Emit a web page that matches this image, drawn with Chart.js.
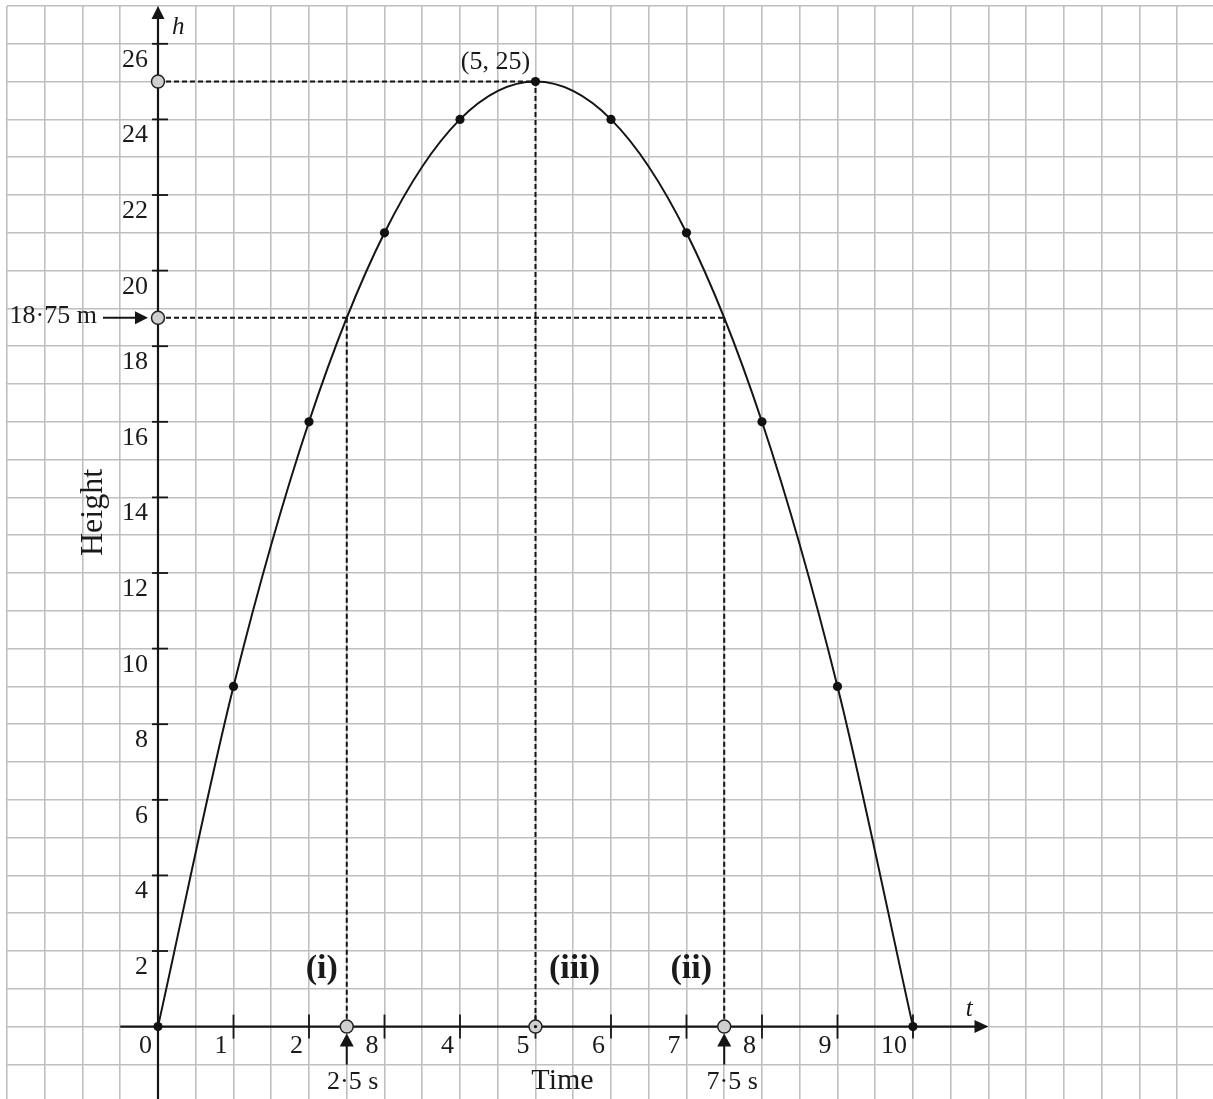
<!DOCTYPE html>
<html>
<head>
<meta charset="utf-8">
<script src="https://cdn.jsdelivr.net/npm/chart.js@4.4.1/dist/chart.umd.min.js"></script>
<style>
html, body { margin: 0; padding: 0; background: #fff; }
#wrap { width: 1213px; height: 1099px; position: relative; }
</style>
</head>
<body>
<div id="wrap"><canvas id="myChart"></canvas></div>
<script>
// data
const tValues = [0, 1, 2, 3, 4, 5, 6, 7, 8, 9, 10];
const hValues = [0, 9, 16, 21, 24, 25, 24, 21, 16, 9, 0];
const tTicks = [1, 2, 3, 4, 5, 6, 7, 8, 9, 10];
const tTickLabels = ["1", "2", "8", "4", "5", "6", "7", "8", "9", "10"];
const hTicks = [2, 4, 6, 8, 10, 12, 14, 16, 18, 20, 22, 24, 26];
const hTickLabels = ["2", "4", "6", "8", "10", "12", "14", "16", "18", "20", "22", "24", "26"];
const maxT = 5, maxH = 25;
const halfH = 18.75;
const halfTimes = [2.5, 7.5];

const curve = tValues.map((t, i) => ({x: t, y: hValues[i]}));

const overlay = {
  id: "overlay",
  beforeDatasetsDraw(chart) {
    const {ctx, scales: {x, y}} = chart;
    const x0 = x.getPixelForValue(0), y0 = y.getPixelForValue(0);
    ctx.save();
    ctx.strokeStyle = "#151515";
    ctx.fillStyle = "#151515";
    ctx.lineWidth = 2.2;
    // t axis
    const tEnd = x.getPixelForValue(11);
    ctx.beginPath();
    ctx.moveTo(x.getPixelForValue(-0.5), y0);
    ctx.lineTo(tEnd - 10, y0);
    ctx.stroke();
    ctx.beginPath();
    ctx.moveTo(tEnd, y0);
    ctx.lineTo(tEnd - 14, y0 - 6.5);
    ctx.lineTo(tEnd - 14, y0 + 6.5);
    ctx.closePath();
    ctx.fill();
    // h axis
    const hEnd = y.getPixelForValue(27);
    ctx.beginPath();
    ctx.moveTo(x0, chart.height);
    ctx.lineTo(x0, hEnd + 10);
    ctx.stroke();
    ctx.beginPath();
    ctx.moveTo(x0, hEnd);
    ctx.lineTo(x0 - 6.5, hEnd + 13);
    ctx.lineTo(x0 + 6.5, hEnd + 13);
    ctx.closePath();
    ctx.fill();
    // tick marks
    ctx.lineWidth = 1.8;
    tTicks.forEach(v => {
      const px = x.getPixelForValue(v);
      ctx.beginPath();
      ctx.moveTo(px, y0 - 12);
      ctx.lineTo(px, y0 + 12);
      ctx.stroke();
    });
    hTicks.forEach(v => {
      const py = y.getPixelForValue(v);
      ctx.beginPath();
      ctx.moveTo(x0 - 6, py);
      ctx.lineTo(x0 + 10, py);
      ctx.stroke();
    });
    // arrow to 18.75 m
    const pyHalf = y.getPixelForValue(halfH);
    ctx.lineWidth = 2;
    ctx.beginPath();
    ctx.moveTo(103, pyHalf);
    ctx.lineTo(138, pyHalf);
    ctx.stroke();
    ctx.beginPath();
    ctx.moveTo(148, pyHalf);
    ctx.lineTo(135, pyHalf - 6.5);
    ctx.lineTo(135, pyHalf + 6.5);
    ctx.closePath();
    ctx.fill();
    // arrows up to 2.5 s and 7.5 s
    halfTimes.forEach(t => {
      const px = x.getPixelForValue(t);
      ctx.beginPath();
      ctx.moveTo(px, y0 + 38);
      ctx.lineTo(px, y0 + 16);
      ctx.stroke();
      ctx.beginPath();
      ctx.moveTo(px, y0 + 7);
      ctx.lineTo(px - 7, y0 + 20);
      ctx.lineTo(px + 7, y0 + 20);
      ctx.closePath();
      ctx.fill();
    });
    ctx.restore();
  },
  afterDatasetsDraw(chart) {
    const {ctx, scales: {x, y}} = chart;
    const x0 = x.getPixelForValue(0), y0 = y.getPixelForValue(0);
    ctx.save();
    ctx.fillStyle = "#1a1a1a";
    ctx.textBaseline = "alphabetic";
    ctx.font = "26px 'Liberation Serif'";
    // h tick labels
    ctx.textAlign = "right";
    hTicks.forEach((v, i) => {
      ctx.fillText(hTickLabels[i], x0 - 10, y.getPixelForValue(v) + 23);
    });
    // t tick labels
    tTicks.forEach((v, i) => {
      ctx.fillText(tTickLabels[i], x.getPixelForValue(v) - 6, y0 + 26);
    });
    ctx.fillText("0", x0 - 6, y0 + 26);
    ctx.fillText("18\u00b775 m", 97, y.getPixelForValue(halfH) + 5);
    ctx.textAlign = "center";
    ctx.fillText("(5, 25)", x.getPixelForValue(maxT) - 40, y.getPixelForValue(maxH) - 13);
    ctx.fillText("2\u00b75 s", x.getPixelForValue(halfTimes[0]) + 6, y0 + 62);
    ctx.fillText("7\u00b75 s", x.getPixelForValue(halfTimes[1]) + 8, y0 + 62);
    ctx.font = "30px 'Liberation Serif'";
    ctx.fillText("Time", x.getPixelForValue(maxT) + 27, y0 + 62);
    // Height (rotated)
    ctx.save();
    ctx.font = "32px 'Liberation Serif'";
    ctx.translate(102, y.getPixelForValue(13.6));
    ctx.rotate(-Math.PI / 2);
    ctx.fillText("Height", 0, 0);
    ctx.restore();
    // part labels
    ctx.font = "bold 34px 'Liberation Serif'";
    ctx.fillText("(i)", x.getPixelForValue(halfTimes[0]) - 25, y0 - 49);
    ctx.fillText("(iii)", x.getPixelForValue(maxT) + 39, y0 - 49);
    ctx.fillText("(ii)", x.getPixelForValue(halfTimes[1]) - 33, y0 - 49);
    // axis names
    ctx.font = "italic 25px 'Liberation Serif'";
    ctx.textAlign = "left";
    ctx.fillText("h", x0 + 14, 34);
    ctx.fillText("t", x.getPixelForValue(10.7), y0 - 11);
    ctx.restore();
  }
};

const keepOnStep = step => axis => {
  axis.ticks = axis.ticks.filter(t => Math.abs(t.value / step - Math.round(t.value / step)) < 1e-6);
};

const dashed = data => ({
  data: data,
  showLine: true, borderColor: "#151515", borderWidth: 2, borderDash: [5, 3],
  pointRadius: 0, order: 3
});

new Chart("myChart", {
  type: "scatter",
  data: {
    datasets: [{
      // hollow markers
      data: [{x: 0, y: maxH}, {x: 0, y: halfH}, {x: halfTimes[0], y: 0}, {x: halfTimes[1], y: 0}, {x: maxT, y: 0}],
      pointRadius: 6.5,
      pointBackgroundColor: "#cfcfcf",
      pointBorderColor: "#222",
      pointBorderWidth: 1.5,
      showLine: false,
      order: 1
    }, {
      data: [{x: maxT, y: 0}],
      pointRadius: 1.6,
      pointBackgroundColor: "#111",
      pointBorderWidth: 0,
      showLine: false,
      order: 0
    }, {
      data: curve,
      showLine: true,
      borderColor: "#151515",
      borderWidth: 2,
      cubicInterpolationMode: "monotone",
      pointRadius: 4.6,
      pointBackgroundColor: "#111",
      pointBorderWidth: 0,
      order: 2
    },
    dashed([{x: 0, y: maxH}, {x: maxT, y: maxH}, {x: maxT, y: 0}]),
    dashed([{x: 0, y: halfH}, {x: halfTimes[1], y: halfH}]),
    dashed([{x: halfTimes[0], y: halfH}, {x: halfTimes[0], y: 0}]),
    dashed([{x: halfTimes[1], y: halfH}, {x: halfTimes[1], y: 0}])
    ]
  },
  options: {
    responsive: true,
    maintainAspectRatio: false,
    animation: false,
    layout: {autoPadding: false, padding: {left: 7, top: 6, right: 0, bottom: 0}},
    plugins: {legend: {display: false}, tooltip: {enabled: false}},
    scales: {
      x: {
        type: "linear", min: -2, max: 13.974,
        border: {display: false},
        ticks: {display: false, stepSize: 0.5, includeBounds: false},
        grid: {color: "#bfbfc3", lineWidth: 1.6, drawTicks: false},
        afterBuildTicks: keepOnStep(0.5)
      },
      y: {
        type: "linear", min: -1.915, max: 27,
        border: {display: false},
        ticks: {display: false, stepSize: 1, includeBounds: false},
        grid: {color: "#bfbfc3", lineWidth: 1.6, drawTicks: false},
        afterBuildTicks: keepOnStep(1)
      }
    }
  },
  plugins: [overlay]
});
</script>
</body>
</html>
